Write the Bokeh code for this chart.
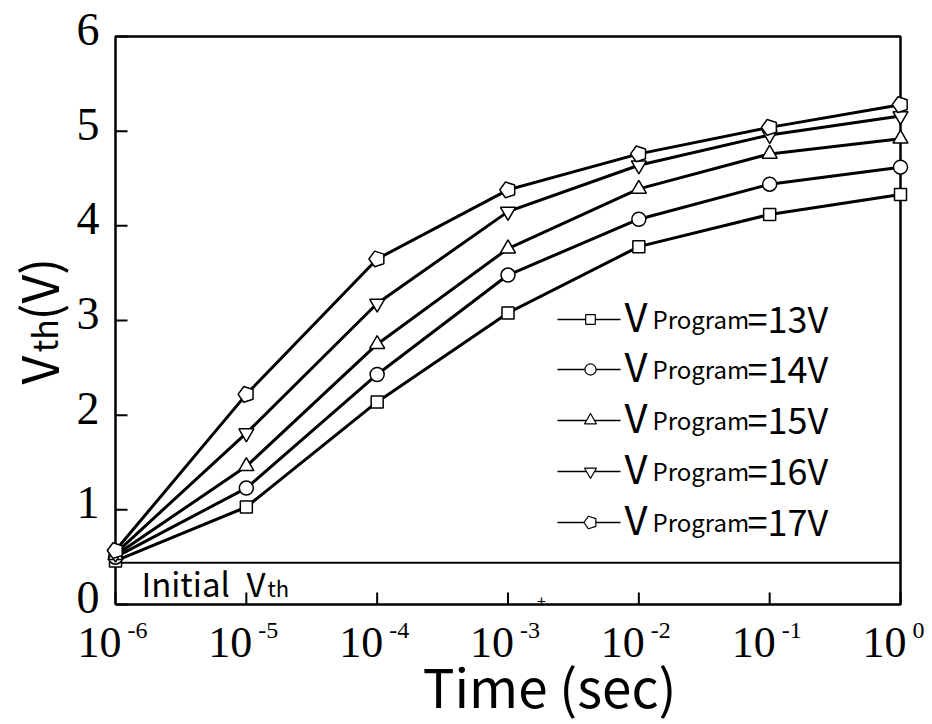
import math
from bokeh.plotting import figure
from bokeh.models import Label
from bokeh.embed import file_html
from bokeh.resources import INLINE

# ---------------- data ----------------
times = [1e-6, 1e-5, 1e-4, 1e-3, 1e-2, 1e-1, 1e0]
v13 = [0.46, 1.03, 2.14, 3.08, 3.78, 4.12, 4.33]
v14 = [0.50, 1.23, 2.43, 3.48, 4.07, 4.44, 4.62]
v15 = [0.52, 1.46, 2.75, 3.76, 4.39, 4.76, 4.92]
v16 = [0.54, 1.81, 3.18, 4.15, 4.64, 4.96, 5.16]
v17 = [0.57, 2.22, 3.65, 4.38, 4.76, 5.04, 5.28]
series_names = ["13V", "14V", "15V", "16V", "17V"]
series_vals = [v13, v14, v15, v16, v17]
markers = ["square", "circle", "triangle", "inverted_triangle", "pentagon"]
x_exponents = ["-6", "-5", "-4", "-3", "-2", "-1", "0"]
y_ticks = [0, 1, 2, 3, 4, 5, 6]
y_tick_labels = ["0", "1", "2", "3", "4", "5", "6"]
initial_vth = 0.44
x_min, x_max = 1e-6, 1e0
y_min, y_max = 0, 6

SERIF = "Liberation Serif"
SANS = "Noto Sans CJK KR"

W, H = 932, 724
# plot box geometry in page pixels
BOX_L, BOX_R, BOX_T, BOX_B = 115, 900, 36, 604
PX_PER_DEC = (BOX_R - BOX_L) / 6.0
PX_PER_UNIT = (BOX_B - BOX_T) / 6.0
BASE_CORR = 0.38  # rendered alphabetic baseline sits ~0.38em lower than anchor


def dx(xr):
    return 10 ** (-6 + (xr - BOX_L) / PX_PER_DEC)


def dy(yr):
    return (BOX_B - yr) / PX_PER_UNIT


def text_at(xr, base_yr, txt, size, font=SANS, align="left"):
    """place text so its alphabetic baseline lands at page pixel base_yr"""
    p.add_layout(Label(x=dx(xr), y=dy(base_yr - BASE_CORR * size), text=txt, text_font=font,
                       text_font_size=f"{size}px", text_align=align,
                       text_baseline="alphabetic", text_color="black"))


p = figure(x_axis_type="log", x_range=(dx(0), dx(W)), y_range=(dy(H), dy(0)),
           width=W, height=H, min_border=0,
           x_axis_location=None, y_axis_location=None,
           output_backend="svg", toolbar_location=None)
p.grid.visible = False
p.outline_line_color = None
p.background_fill_color = "white"
p.border_fill_color = "white"

# ---------------- axes box and ticks ----------------
p.line([x_min, x_max, x_max, x_min, x_min], [y_min, y_min, y_max, y_max, y_min],
       line_color="black", line_width=2.5)
tick_len_y = 12 / PX_PER_UNIT
tick_len_x = 10 ** (12 / PX_PER_DEC)
p.segment(x0=times, y0=[y_min] * len(times), x1=times, y1=[y_min + tick_len_y] * len(times),
          line_color="black", line_width=2)
p.segment(x0=[x_min] * len(y_ticks), y0=y_ticks, x1=[x_min * tick_len_x] * len(y_ticks), y1=y_ticks,
          line_color="black", line_width=2)

for yt, lab in zip(y_ticks, y_tick_labels):
    p.add_layout(Label(x=x_min, y=yt, x_offset=-16, y_offset=7, text=lab, text_font=SERIF,
                       text_font_size="46px", text_align="right", text_baseline="middle",
                       text_color="black"))

for t, e in zip(times, x_exponents):
    p.add_layout(Label(x=t, y=y_min, x_offset=6, y_offset=-38, text="10", text_font=SERIF,
                       text_font_size="44px", text_align="right", text_baseline="alphabetic",
                       text_color="black"))
    p.add_layout(Label(x=t, y=y_min, x_offset=12, y_offset=-26, text=e, text_font=SERIF,
                       text_font_size="24px", text_align="left", text_baseline="alphabetic",
                       text_color="black"))
text_at(541, 607, "+", 16, align="center")

# initial Vth line
p.line([x_min, x_max], [initial_vth, initial_vth], line_color="black", line_width=2)


def draw_marker(xs, ys, kind, size, lw=1.5):
    if kind == "pentagon":
        if hasattr(p, "ngon"):
            p.ngon(x=xs, y=ys, radius=size * 0.55, radius_units="screen", n=5,
                   angle=math.pi / 2, fill_color="white", line_color="black", line_width=lw)
        else:
            p.scatter(xs, ys, marker="hex", size=size, fill_color="white",
                      line_color="black", line_width=lw)
    else:
        p.scatter(xs, ys, marker=kind, size=size, fill_color="white",
                  line_color="black", line_width=lw)


msize = {"square": 12, "circle": 14, "triangle": 15, "inverted_triangle": 15, "pentagon": 15}

for vals in series_vals:
    p.line(times, vals, line_color="black", line_width=3)
for vals, mk in zip(series_vals, markers):
    draw_marker(times, vals, mk, msize[mk])

# ---------------- legend (custom) ----------------
leg_rows = [319, 369, 420, 471, 522]
for yr, name, mk in zip(leg_rows, series_names, markers):
    p.line([dx(557), dx(620)], [dy(yr), dy(yr)], line_color="black", line_width=1.5)
    draw_marker([dx(590)], [dy(yr)], mk, msize[mk] * 0.8, lw=1.2)
    text_at(624, yr + 11, "V", 40)
    text_at(652, yr + 8, "Program", 24)
    text_at(747, yr + 11, "=" + name, 36)

# ---------------- Initial Vth label ----------------
text_at(141, 595, "Initial", 33)
text_at(246, 595, "V", 33)
text_at(267, 595, "th", 22)

# ---------------- axis titles ----------------
text_at(555, 705, "Time  (sec)", 53, align="center")
rot = math.pi / 2
for yr, txt, size in [(384, "V", 50), (352, "th", 34), (320, "(V)", 50)]:
    p.add_layout(Label(x=dx(58 - 0.43 * size), y=dy(yr), text=txt, text_font=SANS,
                       text_font_size=f"{size}px", angle=rot, text_align="left",
                       text_baseline="alphabetic", text_color="black"))

open("out.html", "w").write(file_html(p, INLINE))
